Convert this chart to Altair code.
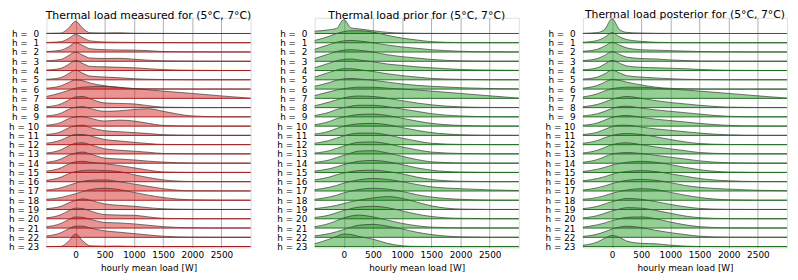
import altair as alt
import pandas as pd

X_W = [-500, -250, -125, 0, 125, 250, 500, 750, 1000, 1250, 1500, 2000, 2500, 3000]
HOURS = list(range(24))
X_TICKS = [0, 500, 1000, 1500, 2000, 2500]

TITLES = [
    "Thermal load measured for (5°C, 7°C)",
    "Thermal load prior for (5°C, 7°C)",
    "Thermal load posterior for (5°C, 7°C)",
]

# ridge heights, in units of one row spacing
MEASURED = [
    [0.02, 0.05, 0.55, 1.31, 0.55, 0.08, 0.06, 0.08, 0.03, 0.02, 0.01, 0.0, 0.0, 0.0],
    [0.03, 0.12, 0.45, 0.90, 0.55, 0.20, 0.08, 0.05, 0.03, 0.02, 0.02, 0.01, 0.01, 0.01],
    [0.05, 0.20, 0.55, 1.00, 0.70, 0.35, 0.25, 0.22, 0.20, 0.15, 0.05, 0.02, 0.01, 0.01],
    [0.05, 0.20, 0.60, 1.00, 0.65, 0.35, 0.30, 0.32, 0.22, 0.12, 0.05, 0.02, 0.01, 0.01],
    [0.05, 0.25, 0.65, 1.10, 0.75, 0.45, 0.40, 0.35, 0.30, 0.20, 0.10, 0.03, 0.01, 0.01],
    [0.05, 0.25, 0.65, 1.05, 0.70, 0.40, 0.30, 0.22, 0.12, 0.06, 0.03, 0.01, 0.01, 0.01],
    [0.10, 0.35, 0.70, 1.00, 0.90, 0.65, 0.35, 0.15, 0.06, 0.03, 0.02, 0.01, 0.01, 0.01],
    [0.20, 0.60, 0.85, 1.10, 1.20, 1.25, 1.30, 1.20, 1.05, 0.92, 0.78, 0.53, 0.26, 0.02],
    [0.10, 0.40, 0.80, 1.15, 1.20, 0.95, 0.50, 0.45, 0.40, 0.20, 0.05, 0.01, 0.01, 0.01],
    [0.10, 0.40, 0.80, 1.05, 1.10, 0.90, 0.60, 0.65, 0.80, 0.88, 0.60, 0.10, 0.01, 0.01],
    [0.10, 0.40, 0.80, 1.00, 1.05, 0.85, 0.55, 0.65, 0.55, 0.30, 0.08, 0.01, 0.01, 0.01],
    [0.10, 0.40, 0.80, 1.05, 1.10, 0.85, 0.50, 0.40, 0.30, 0.20, 0.08, 0.02, 0.01, 0.01],
    [0.15, 0.50, 0.85, 1.10, 1.10, 0.95, 0.55, 0.40, 0.25, 0.12, 0.03, 0.01, 0.01, 0.01],
    [0.10, 0.45, 0.85, 1.15, 1.20, 1.00, 0.55, 0.40, 0.30, 0.18, 0.05, 0.01, 0.01, 0.01],
    [0.10, 0.45, 0.85, 1.10, 1.20, 1.00, 0.55, 0.45, 0.35, 0.22, 0.12, 0.02, 0.01, 0.01],
    [0.15, 0.50, 0.90, 1.15, 1.20, 1.10, 0.95, 0.75, 0.50, 0.25, 0.06, 0.01, 0.01, 0.01],
    [0.15, 0.50, 0.85, 1.10, 1.20, 1.25, 1.20, 1.10, 0.75, 0.45, 0.20, 0.02, 0.01, 0.01],
    [0.10, 0.35, 0.60, 0.85, 1.05, 1.15, 1.20, 1.00, 0.75, 0.50, 0.25, 0.02, 0.01, 0.01],
    [0.10, 0.30, 0.50, 0.70, 0.95, 1.15, 1.30, 1.15, 0.85, 0.55, 0.30, 0.05, 0.02, 0.01],
    [0.10, 0.35, 0.70, 1.00, 1.15, 1.00, 0.60, 0.45, 0.35, 0.20, 0.08, 0.02, 0.01, 0.01],
    [0.10, 0.45, 0.85, 1.15, 1.10, 0.85, 0.45, 0.40, 0.38, 0.20, 0.05, 0.01, 0.01, 0.01],
    [0.15, 0.50, 0.90, 1.20, 1.15, 0.95, 0.60, 0.55, 0.45, 0.30, 0.15, 0.03, 0.01, 0.01],
    [0.15, 0.50, 0.90, 1.20, 1.20, 1.00, 0.70, 0.55, 0.40, 0.25, 0.12, 0.02, 0.01, 0.01],
    [0.00, 0.03, 0.55, 1.35, 0.60, 0.08, 0.04, 0.06, 0.02, 0.01, 0.00, 0.0, 0.0, 0.0],
]

PRIOR = [
    [0.25, 0.40, 0.55, 1.50, 0.60, 0.50, 0.30, 0.12, 0.05, 0.02, 0.01, 0.0, 0.0, 0.0],
    [0.25, 0.70, 1.00, 1.20, 1.30, 1.30, 1.15, 0.80, 0.50, 0.30, 0.12, 0.02, 0.01, 0.01],
    [0.30, 0.80, 1.05, 1.20, 1.25, 1.20, 1.00, 0.75, 0.55, 0.40, 0.25, 0.08, 0.02, 0.01],
    [0.30, 0.80, 1.05, 1.20, 1.25, 1.20, 1.00, 0.70, 0.50, 0.35, 0.20, 0.05, 0.01, 0.01],
    [0.30, 0.80, 1.05, 1.20, 1.25, 1.15, 0.95, 0.70, 0.55, 0.40, 0.30, 0.12, 0.05, 0.02],
    [0.30, 0.80, 1.05, 1.20, 1.20, 1.10, 0.90, 0.65, 0.45, 0.30, 0.15, 0.05, 0.01, 0.01],
    [0.30, 0.70, 0.95, 1.10, 1.15, 1.10, 0.95, 0.75, 0.55, 0.40, 0.30, 0.15, 0.06, 0.02],
    [0.30, 0.70, 0.90, 1.05, 1.15, 1.20, 1.20, 1.10, 1.00, 0.90, 0.78, 0.53, 0.27, 0.03],
    [0.20, 0.60, 0.85, 1.05, 1.20, 1.25, 1.20, 1.00, 0.75, 0.50, 0.30, 0.08, 0.02, 0.01],
    [0.15, 0.50, 0.80, 1.00, 1.15, 1.25, 1.25, 1.10, 0.85, 0.60, 0.35, 0.10, 0.02, 0.01],
    [0.15, 0.50, 0.80, 1.00, 1.15, 1.25, 1.30, 1.15, 0.85, 0.55, 0.30, 0.08, 0.02, 0.01],
    [0.15, 0.45, 0.75, 1.00, 1.15, 1.25, 1.30, 1.15, 0.85, 0.55, 0.30, 0.08, 0.02, 0.01],
    [0.15, 0.45, 0.70, 0.95, 1.15, 1.25, 1.25, 1.05, 0.70, 0.40, 0.15, 0.03, 0.01, 0.01],
    [0.10, 0.35, 0.60, 0.85, 1.10, 1.25, 1.30, 1.10, 0.75, 0.45, 0.20, 0.05, 0.01, 0.01],
    [0.10, 0.35, 0.60, 0.85, 1.10, 1.30, 1.35, 1.10, 0.75, 0.40, 0.15, 0.03, 0.01, 0.01],
    [0.15, 0.40, 0.60, 0.85, 1.05, 1.20, 1.30, 1.15, 0.85, 0.50, 0.25, 0.05, 0.01, 0.01],
    [0.20, 0.50, 0.75, 0.95, 1.10, 1.20, 1.25, 1.10, 0.85, 0.50, 0.25, 0.05, 0.01, 0.01],
    [0.15, 0.40, 0.60, 0.85, 1.05, 1.20, 1.35, 1.25, 1.00, 0.70, 0.45, 0.25, 0.12, 0.05],
    [0.10, 0.35, 0.55, 0.80, 1.00, 1.15, 1.30, 1.20, 0.95, 0.60, 0.35, 0.10, 0.02, 0.01],
    [0.10, 0.30, 0.45, 0.65, 0.85, 1.00, 1.25, 1.40, 1.20, 0.80, 0.40, 0.05, 0.01, 0.01],
    [0.15, 0.40, 0.65, 0.90, 1.10, 1.25, 1.35, 1.20, 0.85, 0.50, 0.25, 0.05, 0.01, 0.01],
    [0.15, 0.50, 0.80, 1.10, 1.30, 1.40, 1.20, 0.85, 0.50, 0.25, 0.10, 0.02, 0.01, 0.01],
    [0.15, 0.40, 0.60, 0.85, 1.10, 1.30, 1.40, 1.20, 0.90, 0.55, 0.30, 0.05, 0.01, 0.01],
    [0.30, 0.80, 1.10, 1.35, 1.30, 1.10, 0.80, 0.35, 0.08, 0.02, 0.01, 0.0, 0.0, 0.0],
]

POSTERIOR = [
    [0.02, 0.10, 0.45, 1.60, 0.45, 0.12, 0.05, 0.02, 0.01, 0.0, 0.0, 0.0, 0.0, 0.0],
    [0.05, 0.25, 0.60, 1.10, 0.65, 0.35, 0.15, 0.05, 0.02, 0.01, 0.01, 0.0, 0.0, 0.0],
    [0.08, 0.30, 0.65, 1.05, 0.75, 0.45, 0.25, 0.20, 0.15, 0.10, 0.05, 0.02, 0.01, 0.01],
    [0.08, 0.30, 0.65, 1.05, 0.75, 0.45, 0.30, 0.25, 0.15, 0.08, 0.03, 0.01, 0.01, 0.01],
    [0.08, 0.30, 0.70, 1.10, 0.80, 0.50, 0.35, 0.30, 0.25, 0.20, 0.12, 0.03, 0.01, 0.01],
    [0.08, 0.30, 0.65, 1.05, 0.75, 0.45, 0.30, 0.20, 0.12, 0.06, 0.03, 0.01, 0.01, 0.01],
    [0.10, 0.40, 0.75, 1.05, 0.95, 0.75, 0.45, 0.20, 0.08, 0.03, 0.01, 0.0, 0.0, 0.0],
    [0.15, 0.50, 0.80, 1.05, 1.15, 1.20, 1.20, 1.10, 1.00, 0.90, 0.78, 0.53, 0.27, 0.03],
    [0.10, 0.35, 0.60, 0.90, 1.10, 1.20, 1.00, 0.75, 0.55, 0.40, 0.25, 0.05, 0.01, 0.01],
    [0.10, 0.35, 0.60, 0.90, 1.10, 1.15, 0.95, 0.75, 0.60, 0.45, 0.30, 0.06, 0.01, 0.01],
    [0.10, 0.35, 0.65, 0.95, 1.10, 1.15, 0.95, 0.75, 0.60, 0.45, 0.30, 0.08, 0.02, 0.01],
    [0.10, 0.35, 0.65, 0.95, 1.10, 1.10, 0.90, 0.70, 0.55, 0.40, 0.25, 0.06, 0.01, 0.01],
    [0.15, 0.45, 0.75, 1.00, 1.15, 1.20, 1.10, 0.85, 0.55, 0.30, 0.12, 0.02, 0.01, 0.01],
    [0.10, 0.40, 0.70, 1.00, 1.15, 1.20, 1.00, 0.75, 0.55, 0.35, 0.15, 0.03, 0.01, 0.01],
    [0.10, 0.40, 0.70, 1.00, 1.10, 1.15, 1.05, 0.85, 0.65, 0.45, 0.25, 0.05, 0.01, 0.01],
    [0.10, 0.35, 0.55, 0.80, 0.95, 1.10, 1.20, 1.10, 0.85, 0.55, 0.30, 0.05, 0.01, 0.01],
    [0.10, 0.35, 0.55, 0.80, 1.00, 1.10, 1.20, 1.10, 0.85, 0.60, 0.35, 0.10, 0.02, 0.01],
    [0.10, 0.35, 0.55, 0.80, 1.00, 1.15, 1.25, 1.15, 0.90, 0.60, 0.40, 0.20, 0.08, 0.03],
    [0.10, 0.30, 0.50, 0.75, 0.95, 1.10, 1.25, 1.15, 0.85, 0.55, 0.30, 0.05, 0.01, 0.01],
    [0.10, 0.35, 0.60, 0.85, 1.05, 1.20, 1.10, 0.85, 0.55, 0.30, 0.12, 0.02, 0.01, 0.01],
    [0.10, 0.35, 0.60, 0.85, 1.05, 1.20, 1.15, 0.90, 0.60, 0.30, 0.12, 0.02, 0.01, 0.01],
    [0.10, 0.35, 0.55, 0.80, 1.00, 1.15, 1.20, 1.00, 0.65, 0.35, 0.15, 0.02, 0.01, 0.01],
    [0.10, 0.35, 0.60, 0.90, 1.10, 1.20, 1.05, 0.75, 0.50, 0.30, 0.12, 0.02, 0.01, 0.01],
    [0.15, 0.50, 0.90, 1.20, 1.00, 0.60, 0.35, 0.30, 0.15, 0.05, 0.01, 0.0, 0.0, 0.0],
]

FONT = "DejaVu Sans"
N = len(HOURS)


def panel(rows, title, fill, line_col):
    recs = []
    for h, vals in zip(HOURS, rows):
        for x, v in zip(X_W, vals):
            recs.append({"h": h, "x": x, "base": (N - 1) - h, "top": (N - 1) - h + v})
    df = pd.DataFrame(recs)
    bases = pd.DataFrame({"h": HOURS, "base": [(N - 1) - h for h in HOURS]})

    xscale = alt.Scale(domain=[-500, 3000], nice=False, zero=False)
    yscale = alt.Scale(domain=[-0.1, 24.7], nice=False, zero=False)
    xaxis = alt.Axis(
        values=X_TICKS, format="d", title="hourly mean load [W]", grid=True,
        gridColor="#b0b0b0", gridWidth=1, domain=False, ticks=False,
        labelPadding=3, titlePadding=4, labelFontSize=9, titleFontSize=9,
        titleFontWeight="normal", labelFont=FONT, titleFont=FONT,
        labelColor="#000", titleColor="#000", labelOverlap=False,
    )
    nb = "\u00a0"
    yaxis = alt.Axis(
        values=list(range(N)), tickCount=N,
        labelExpr=f"'h = ' + ({N - 1} - datum.value < 10 ? '{nb}' : '') + ({N - 1} - datum.value)",
        grid=False, domain=False, ticks=False, labelPadding=8, title=None,
        labelFontSize=9, labelFont=FONT, labelColor="#000",
        labelOverlap=False, labelBound=False, labelFlush=False,
    )

    base = alt.Chart(df)
    area = base.mark_area(interpolate="monotone", color=fill, opacity=0.5).encode(
        x=alt.X("x:Q", scale=xscale, axis=xaxis),
        y=alt.Y("top:Q", scale=yscale, axis=yaxis),
        y2="base:Q",
        detail="h:N",
    )
    curve = base.mark_line(interpolate="monotone", color="#333333", strokeWidth=0.8, opacity=0.85).encode(
        x=alt.X("x:Q", scale=xscale, axis=xaxis),
        y=alt.Y("top:Q", scale=yscale, axis=yaxis),
        detail="h:N",
    )
    rule = alt.Chart(bases).mark_rule(color=line_col, strokeWidth=1).encode(
        y=alt.Y("base:Q", scale=yscale, axis=yaxis)
    )

    return alt.layer(area, curve, rule).properties(
        width=207, height=233,
        title=alt.TitleParams(title, fontSize=11, font=FONT, fontWeight="normal",
                              color="#000", offset=-3, anchor="middle", frame="group"),
    )


chart = alt.hconcat(
    panel(MEASURED, TITLES[0], "#d62728", "#a51c1c"),
    panel(PRIOR, TITLES[1], "#2ca02c", "#1e6e1e"),
    panel(POSTERIOR, TITLES[2], "#2ca02c", "#1e6e1e"),
    spacing=23,
).properties(
    padding={"left": 0, "top": -2, "right": 0, "bottom": 0}
).configure_view(stroke=None).configure(background="white")

chart.save("out.html", embed_options={"renderer": "svg", "actions": False})
